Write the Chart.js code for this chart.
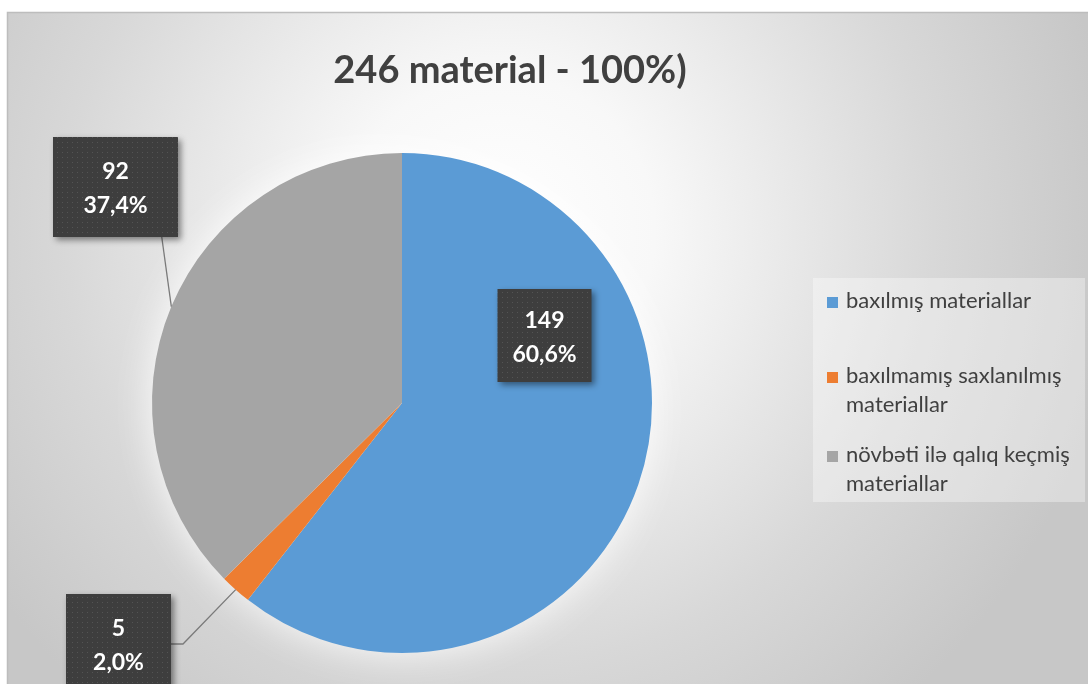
<!DOCTYPE html>
<html>
<head>
<meta charset="utf-8">
<script src="https://cdn.jsdelivr.net/npm/chart.js@4/dist/chart.umd.min.js"></script>
<style>
  html, body { margin: 0; padding: 0; background: #fff; overflow: hidden; }
  #wrap { width: 1088px; height: 684px; }
</style>
</head>
<body>
<div id="wrap"><canvas id="chart" width="1088" height="684"></canvas></div>
<script>
// Chart data
const chartTitle = "246 material - 100%)";
const categories = [
  ["baxılmış materiallar"],
  ["baxılmamış saxlanılmış", "materiallar"],
  ["növbəti ilə qalıq keçmiş", "materiallar"]
];
const counts = [149, 5, 92];
const sliceColors = ["#5B9BD5", "#ED7D31", "#A5A5A5"];

const total = counts.reduce((a, b) => a + b, 0);
const percentText = counts.map(v => (v / total * 100).toFixed(1).replace(".", ",") + "%");

const textColor = "#404040";

// Dotted dark fill used by the data label boxes
function makePattern(ctx) {
  const tile = document.createElement("canvas");
  tile.width = 5;
  tile.height = 5;
  const t = tile.getContext("2d");
  t.fillStyle = "#3e3e3e";
  t.fillRect(0, 0, 5, 5);
  t.fillStyle = "#545454";
  t.fillRect(2, 2, 1, 1);
  return ctx.createPattern(tile, "repeat");
}

// Background: white page, framed plot with radial grey gradient
const backgroundPlugin = {
  id: "background",
  beforeDraw(chart) {
    const ctx = chart.ctx;
    ctx.save();
    ctx.fillStyle = "#ffffff";
    ctx.fillRect(0, 0, chart.width, chart.height);
    const g = ctx.createRadialGradient(500, 230, 0, 500, 230, 620);
    g.addColorStop(0, "#ffffff");
    g.addColorStop(0.25, "#f8f8f8");
    g.addColorStop(0.7, "#d8d8d8");
    g.addColorStop(1, "#c7c7c7");
    ctx.fillStyle = g;
    ctx.fillRect(7, 12, chart.width, chart.height);
    ctx.strokeStyle = "#bdbdbd";
    ctx.lineWidth = 1.5;
    ctx.beginPath();
    ctx.moveTo(7.5, chart.height + 2);
    ctx.lineTo(7.5, 12.5);
    ctx.lineTo(chart.width + 2, 12.5);
    ctx.stroke();
    ctx.restore();
  },
  // soft white glow around the pie
  beforeDatasetsDraw(chart) {
    const arc = chart.getDatasetMeta(0).data[0];
    if (!arc) return;
    const ctx = chart.ctx;
    ctx.save();
    ctx.shadowColor = "rgba(255,255,255,0.95)";
    ctx.shadowBlur = 40;
    ctx.fillStyle = "#ffffff";
    ctx.beginPath();
    ctx.arc(arc.x, arc.y, arc.outerRadius - 2, 0, Math.PI * 2);
    ctx.fill();
    ctx.restore();
  }
};

// Title, legend and the boxed data labels
const decorPlugin = {
  id: "decor",
  afterDraw(chart) {
    const ctx = chart.ctx;
    const meta = chart.getDatasetMeta(0);
    const opts = chart.options.plugins.decor;

    ctx.save();

    // title
    ctx.fillStyle = textColor;
    ctx.font = "bold 38px Lato";
    ctx.textAlign = "center";
    ctx.textBaseline = "alphabetic";
    ctx.fillText(chartTitle, 510, 83);

    // legend
    ctx.fillStyle = "rgba(255,255,255,0.35)";
    ctx.fillRect(813, 278, 272, 224);
    ctx.font = "22px Lato";
    ctx.textAlign = "left";
    let y = 308;
    const gaps = [75, 79];
    categories.forEach((lines, i) => {
      ctx.fillStyle = sliceColors[i];
      ctx.fillRect(827, y - 11, 11, 11);
      ctx.fillStyle = textColor;
      lines.forEach((line, j) => ctx.fillText(line, 846, y + j * 29));
      y += gaps[i] || 0;
    });

    const pattern = makePattern(ctx);

    meta.data.forEach((arc, i) => {
      const p = arc.getProps(["x", "y", "startAngle", "endAngle", "outerRadius"], true);
      const r = p.outerRadius;
      const spec = opts.labels[i];
      const cx = p.x + spec.dx * r;
      const cy = p.y + spec.dy * r;
      const left = cx - spec.w / 2;
      const top = cy - spec.h / 2;

      // leader line to the middle of the slice edge
      if (spec.leader) {
        const mid = (p.startAngle + p.endAngle) / 2;
        const ex = p.x + Math.cos(mid) * r;
        const ey = p.y + Math.sin(mid) * r;
        ctx.strokeStyle = "#7a7a7a";
        ctx.lineWidth = 1.3;
        ctx.beginPath();
        if (spec.leader === "bottom") {
          ctx.moveTo(left + spec.w * 0.87, top + spec.h);
        } else {
          ctx.moveTo(left + spec.w, cy);
          ctx.lineTo(left + spec.w + 12, cy);
        }
        ctx.lineTo(ex, ey);
        ctx.stroke();
      }

      ctx.save();
      ctx.shadowColor = "rgba(0,0,0,0.45)";
      ctx.shadowBlur = 6;
      ctx.shadowOffsetX = 3;
      ctx.shadowOffsetY = 3;
      ctx.fillStyle = pattern;
      ctx.fillRect(left, top, spec.w, spec.h);
      ctx.restore();

      ctx.fillStyle = "#ffffff";
      ctx.font = "bold 23px Lato";
      ctx.textAlign = "center";
      ctx.textBaseline = "middle";
      ctx.fillText(String(counts[i]), cx, cy - 15);
      ctx.fillText(percentText[i], cx, cy + 19);
    });

    ctx.restore();
  }
};

new Chart(document.getElementById("chart"), {
  type: "pie",
  data: {
    labels: categories,
    datasets: [{
      data: counts,
      backgroundColor: sliceColors,
      borderWidth: 0
    }]
  },
  options: {
    responsive: false,
    animation: false,
    layout: { padding: { left: 152, right: 436, top: 153, bottom: 31 } },
    plugins: {
      legend: { display: false },
      tooltip: { enabled: false },
      title: { display: false },
      decor: {
        labels: [
          { dx: 0.57, dy: -0.27, w: 94, h: 93 },
          { dx: -1.134, dy: 0.964, w: 105, h: 100, leader: "right" },
          { dx: -1.146, dy: -0.864, w: 125, h: 100, leader: "bottom" }
        ]
      }
    }
  },
  plugins: [backgroundPlugin, decorPlugin]
});
</script>
</body>
</html>
